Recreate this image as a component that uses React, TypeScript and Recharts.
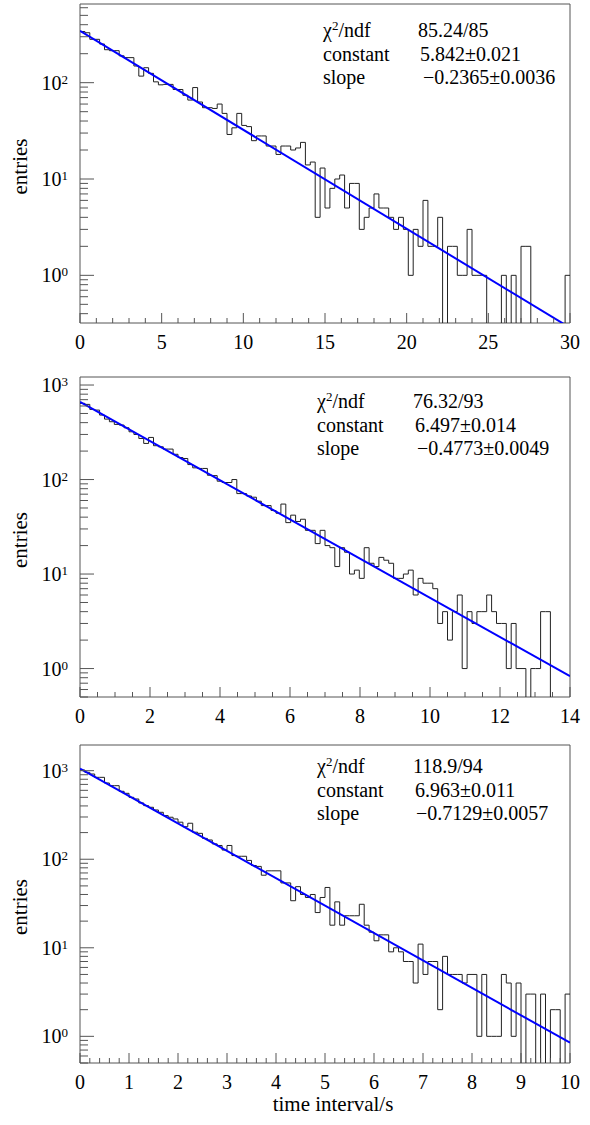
import { ComposedChart, Line, ReferenceArea, XAxis, YAxis } from 'recharts';

const SERIF = '"Liberation Serif", "Times New Roman", serif';
const INK = '#000';
const FRAME = '#555';

// bin contents, 100 bins each
const COUNTS_A = [
    340, 330, 282, 282, 252, 220, 215, 215, 190, 182,
    182, 149, 117, 143, 125, 102, 95, 96, 96, 85,
    85, 74, 66, 89, 63, 55, 55, 54, 60, 48,
    29, 34, 48, 36, 35, 25, 28, 28, 22, 22,
    18, 22, 22, 20, 21, 24, 14, 15, 4, 13,
    5, 8, 10, 11, 5, 9, 9, 3, 4, 5,
    7, 5, 5, 4, 3, 4, 3, 1, 3, 2,
    6, 2, 2, 4, 0, 2, 2, 1, 1, 3,
    1, 1, 1, 0, 0, 0, 1, 0, 1, 0,
    2, 2, 0, 0, 0, 0, 0, 0, 0, 1,
];

const COUNTS_B = [
    640, 624, 552, 543, 481, 436, 409, 383, 377, 353,
    320, 300, 272, 241, 279, 228, 222, 210, 210, 185,
    171, 167, 144, 133, 131, 131, 111, 110, 96, 93,
    93, 100, 71, 71, 67, 65, 59, 53, 53, 47,
    44, 55, 35, 42, 36, 38, 29, 29, 21, 29,
    20, 19, 12, 19, 17, 10, 11, 9, 19, 13,
    12, 15, 14, 13, 9, 9, 10, 11, 6, 9,
    8, 8, 7, 3, 4, 2, 4, 6, 1, 4,
    3, 4, 4, 6, 4, 3, 3, 1, 3, 1,
    1, 0, 1, 1, 4, 4, 0, 0, 0, 0,
];

const COUNTS_C = [
    1017, 958, 917, 841, 841, 726, 677, 677, 585, 555,
    500, 479, 432, 403, 386, 360, 339, 311, 298, 285,
    262, 233, 255, 202, 196, 172, 165, 149, 143, 127,
    143, 110, 108, 108, 97, 85, 83, 66, 74, 74,
    74, 54, 54, 34, 49, 40, 37, 40, 25, 37,
    48, 18, 33, 18, 23, 23, 23, 31, 18, 15,
    12, 14, 14, 9, 10, 9, 7, 7, 4, 11,
    5, 7, 7, 2, 8, 5, 5, 5, 4, 5,
    5, 1, 5, 1, 1, 1, 5, 4, 1, 4,
    0, 3, 3, 0, 3, 0, 2, 2, 0, 3,
];

const X_LABELS_A = [0, 5, 10, 15, 20, 25, 30];
const X_LABELS_B = [0, 2, 4, 6, 8, 10, 12, 14];
const X_LABELS_C = [0, 1, 2, 3, 4, 5, 6, 7, 8, 9, 10];

// exponential fit, value of exp(constant + slope*x) at both ends of the axis
const FIT_A = [{ x: 0, y: 344.5 }, { x: 30, y: 0.286 }];
const FIT_B = [{ x: 0, y: 663.2 }, { x: 14, y: 0.831 }];
const FIT_C = [{ x: 0, y: 1056.8 }, { x: 10, y: 0.847 }];

const STAT_LABELS = ['/ndf', 'constant', 'slope'];
const STATS_A = ['85.24/85', '5.842±0.021', '−0.2365±0.0036'];
const STATS_B = ['76.32/93', '6.497±0.014', '−0.4773±0.0049'];
const STATS_C = ['118.9/94', '6.963±0.011', '−0.7129±0.0057'];

const FLOOR = 0.01; // empty bins drop out of the log frame
const PAD_TOP = 20;

function logTicks(lo: number, hi: number) {
    const out: number[] = [];
    for (let e = Math.floor(Math.log10(lo)); e <= Math.ceil(Math.log10(hi)); e++) {
        for (let m = 1; m <= 9; m++) {
            const v = +(m * Math.pow(10, e)).toPrecision(6);
            if (v >= lo && v <= hi) out.push(v);
        }
    }
    return out;
}

function linTicks(max: number, step: number) {
    const out: number[] = [];
    const n = Math.round(max / step);
    for (let i = 0; i <= n; i++) out.push(+(i * step).toFixed(6));
    return out;
}

const PANELS = [
    {
        counts: COUNTS_A, xMax: 30, minorStep: 1, labels: X_LABELS_A, fit: FIT_A, stats: STATS_A,
        yDomain: [0.32, 656], top: 4, height: 319,
        statX: [323, 418, 420, 423], statY: [37, 61, 84],
    },
    {
        counts: COUNTS_B, xMax: 14, minorStep: 0.5, labels: X_LABELS_B, fit: FIT_B, stats: STATS_B,
        yDomain: [0.5, 1216], top: 377, height: 320,
        statX: [317, 413, 415, 417], statY: [408, 432, 455],
    },
    {
        counts: COUNTS_C, xMax: 10, minorStep: 0.2, labels: X_LABELS_C, fit: FIT_C, stats: STATS_C,
        yDomain: [0.5, 1950], top: 745, height: 318,
        statX: [317, 413, 415, 416], statY: [773, 797, 820],
    },
];

function YTick(props: any) {
    const { x, y, payload } = props;
    const e = Math.log10(payload.value);
    const major = Math.abs(e - Math.round(e)) < 1e-6;
    return (
        <g>
            <line x1={x} x2={x + (major ? 14 : 8)} y1={y} y2={y} stroke={FRAME} />
            {major && (
                <text x={x - 12} y={y + 7} textAnchor="end" fontFamily={SERIF} fontSize={20} fill={INK}>
                    10<tspan fontSize={13} dy={-6}>{Math.round(e)}</tspan>
                </text>
            )}
        </g>
    );
}

function makeXTick(labels: number[]) {
    return (props: any) => {
        const { x, y, payload } = props;
        const major = labels.some((m) => Math.abs(m - payload.value) < 1e-6);
        return (
            <g>
                <line x1={x} x2={x} y1={y} y2={y - (major ? 10 : 5)} stroke={FRAME} />
                {major && (
                    <text x={x} y={y + 26} textAnchor="middle" fontFamily={SERIF} fontSize={20} fill={INK}>
                        {payload.value}
                    </text>
                )}
            </g>
        );
    };
}

function Panel({ p }: { p: (typeof PANELS)[number] }) {
    const w = p.xMax / p.counts.length;
    const hist = p.counts.map((c, i) => ({ x: +(i * w).toFixed(6), y: c > 0 ? c : FLOOR }));
    hist.push({ x: p.xMax, y: hist[hist.length - 1].y });

    return (
        <div style={{ position: 'absolute', left: 0, top: p.top - PAD_TOP, width: 590, height: p.height + 40 + PAD_TOP }}>
            <ComposedChart
                width={590}
                height={p.height + 40 + PAD_TOP}
                margin={{ top: PAD_TOP, right: 20, bottom: 0, left: 0 }}
            >
                <XAxis
                    type="number"
                    dataKey="x"
                    domain={[0, p.xMax]}
                    allowDataOverflow
                    ticks={linTicks(p.xMax, p.minorStep)}
                    interval={0}
                    height={40}
                    tickSize={0}
                    tickMargin={0}
                    tickLine={false}
                    axisLine={false}
                    tick={makeXTick(p.labels)}
                />
                <YAxis
                    type="number"
                    scale="log"
                    domain={p.yDomain}
                    allowDataOverflow
                    ticks={logTicks(p.yDomain[0], p.yDomain[1])}
                    interval={0}
                    width={80}
                    tickSize={0}
                    tickMargin={0}
                    tickLine={false}
                    axisLine={false}
                    tick={(props: any) => <YTick {...props} />}
                />
                <ReferenceArea
                    x1={0}
                    x2={p.xMax}
                    y1={p.yDomain[0]}
                    y2={p.yDomain[1]}
                    fill="none"
                    stroke={FRAME}
                    strokeWidth={1}
                    fillOpacity={0}
                />
                <Line
                    data={hist}
                    dataKey="y"
                    type="stepAfter"
                    stroke="#222"
                    strokeWidth={1}
                    dot={false}
                    activeDot={false}
                    isAnimationActive={false}
                />
                <Line
                    data={p.fit}
                    dataKey="y"
                    type="linear"
                    stroke="#0000ff"
                    strokeWidth={2}
                    dot={false}
                    activeDot={false}
                    isAnimationActive={false}
                />
            </ComposedChart>
        </div>
    );
}

export default function App() {
    return (
        <div style={{ position: 'relative', width: 590, height: 1125, background: '#fff' }}>
            <style>{'body{margin:0}'}</style>
            {PANELS.map((p, i) => (
                <Panel key={i} p={p} />
            ))}
            <svg
                width={590}
                height={1125}
                style={{ position: 'absolute', left: 0, top: 0, pointerEvents: 'none' }}
                fontFamily={SERIF}
                fontSize={20}
                fill={INK}
            >
                {PANELS.map((p, i) => (
                    <g key={i}>
                        <text transform={`translate(27, ${p.top + p.height / 2 + 3}) rotate(-90)`} textAnchor="middle" fontSize={21}>
                            entries
                        </text>
                        <text x={p.statX[0]} y={p.statY[0]}>
                            χ<tspan fontSize={13} dy={-7}>2</tspan>
                            <tspan dy={7}>{STAT_LABELS[0]}</tspan>
                        </text>
                        <text x={p.statX[0]} y={p.statY[1]}>{STAT_LABELS[1]}</text>
                        <text x={p.statX[0]} y={p.statY[2]}>{STAT_LABELS[2]}</text>
                        {p.stats.map((s, j) => (
                            <text key={j} x={p.statX[j + 1]} y={p.statY[j]}>
                                {s}
                            </text>
                        ))}
                    </g>
                ))}
                <text x={333} y={1111} textAnchor="middle" fontSize={21}>
                    time interval/s
                </text>
            </svg>
        </div>
    );
}
